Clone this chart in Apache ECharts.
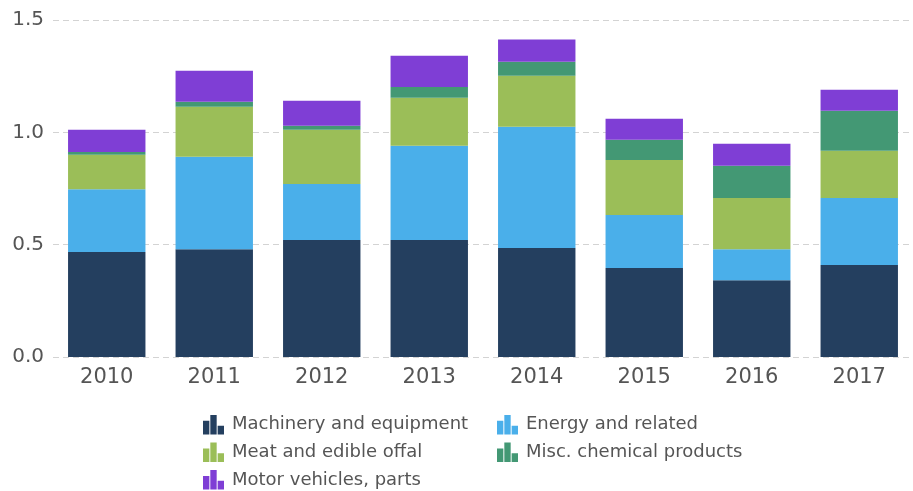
<!DOCTYPE html>
<html>
<head>
<meta charset="utf-8">
<script src="https://cdn.jsdelivr.net/npm/echarts@6/dist/echarts.min.js"></script>
<style>html,body{margin:0;padding:0;background:#fff;}#c{width:913px;height:491px;}</style>
</head>
<body>
<div id="c"></div>
<script>
const years = ['2010','2011','2012','2013','2014','2015','2016','2017'];
const machinery = [0.467, 0.480, 0.521, 0.521, 0.485, 0.396, 0.342, 0.409];
const energy    = [0.280, 0.411, 0.249, 0.419, 0.540, 0.236, 0.138, 0.299];
const meat      = [0.153, 0.223, 0.241, 0.214, 0.227, 0.245, 0.228, 0.210];
const chemical  = [0.013, 0.022, 0.018, 0.048, 0.062, 0.090, 0.143, 0.178];
const motor     = [0.098, 0.138, 0.112, 0.139, 0.099, 0.093, 0.098, 0.094];
const yTicks = [0, 0.5, 1.0, 1.5];

const names = ['Machinery and equipment','Energy and related','Meat and edible offal','Misc. chemical products','Motor vehicles, parts'];
const colors = ['#243f5f','#4aafea','#9bbe58','#439874','#7f3ed5'];
const values = [machinery, energy, meat, chemical, motor];
const icon = 'path://M0,6H6.5V20H0Z M7.5,0H14V20H7.5Z M15,11H21.5V20H15Z';
const font = 'Verdana, "DejaVu Sans", sans-serif';

const chart = echarts.init(document.getElementById('c'));
const legendBase = {
  orient: 'vertical', top: 415, height: 150, itemWidth: 21, itemHeight: 20, itemGap: 8, icon: icon,
  padding: 0,
  textStyle: { fontFamily: font, fontSize: 18, color: '#555', padding: [0, 0, 0, 3] }
};
chart.setOption({
  animation: false,
  color: colors,
  grid: { left: 53, width: 866, top: 20, bottom: 134, containLabel: false },
  legend: [
    Object.assign({}, legendBase, { left: 203, data: [names[0], names[2], names[4]] }),
    Object.assign({}, legendBase, { left: 497, data: [names[1], names[3]] })
  ],
  xAxis: {
    type: 'category', data: years,
    axisLine: { show: false }, axisTick: { show: false },
    axisLabel: { fontFamily: font, fontSize: 21, color: '#555', margin: 10 }
  },
  yAxis: {
    type: 'value', min: yTicks[0], max: yTicks[yTicks.length-1], interval: 0.5,
    axisLine: { show: false }, axisTick: { show: false },
    axisLabel: { fontFamily: font, fontSize: 20, color: '#555', margin: 9, formatter: v => v.toFixed(1) },
    splitLine: { lineStyle: { color: '#d3d3d3', type: [6, 4], width: 1 } }
  },
  series: names.map((n, i) => ({
    name: n, type: 'bar', stack: 'total', data: values[i],
    barWidth: '72%', itemStyle: { color: colors[i] }
  }))
});
</script>
</body>
</html>
